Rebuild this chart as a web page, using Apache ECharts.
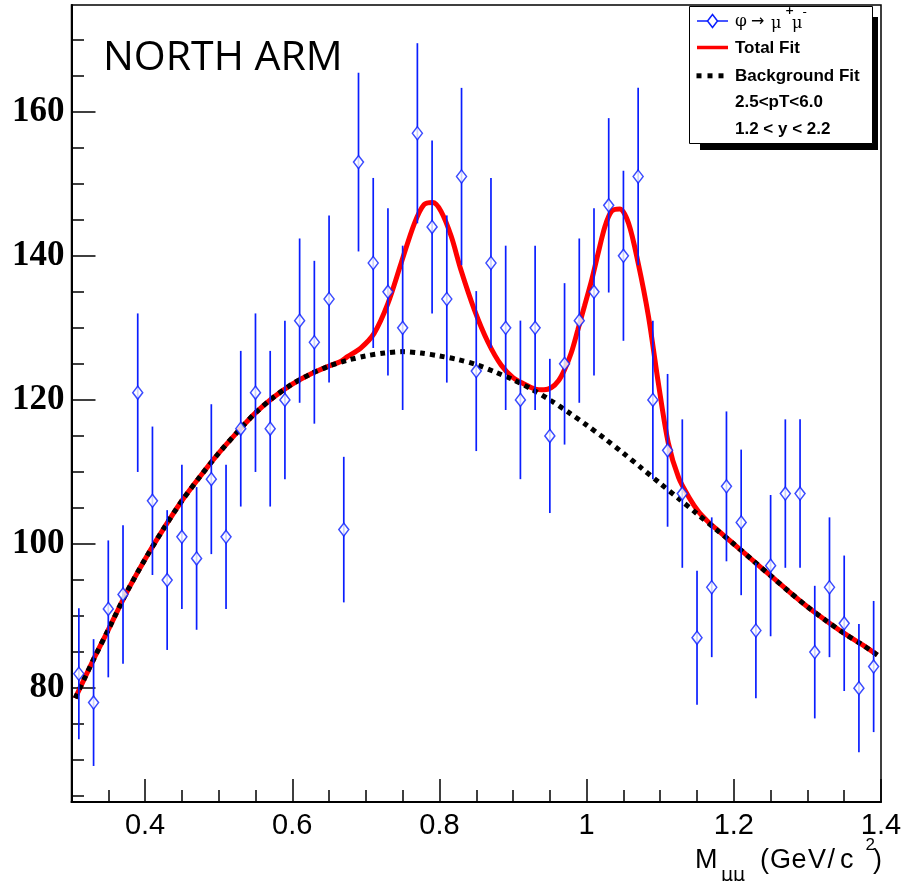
<!DOCTYPE html>
<html>
<head>
<meta charset="utf-8">
<script src="https://cdn.jsdelivr.net/npm/echarts@6/dist/echarts.min.js"></script>
<style>
html,body{margin:0;padding:0;background:#fff;}
#chart{width:906px;height:881px;}
</style>
</head>
<body>
<div id="chart"></div>
<script>
// ---- data ----
const massBins = [0.31,0.33,0.35,0.37,0.39,0.41,0.43,0.45,0.47,0.49,
  0.51,0.53,0.55,0.57,0.59,0.61,0.63,0.65,0.67,0.69,
  0.71,0.73,0.75,0.77,0.79,0.81,0.83,0.85,0.87,0.89,
  0.91,0.93,0.95,0.97,0.99,1.01,1.03,1.05,1.07,1.09,
  1.11,1.13,1.15,1.17,1.19,1.21,1.23,1.25,1.27,1.29,
  1.31,1.33,1.35,1.37,1.39];
const counts = [82,78,91,93,121, 106,95,101,98,109,
  101,116,121,116,120, 131,128,134,102,153,
  139,135,130,157,144, 134,151,124,139,130,
  120,130,115,125,131, 135,147,140,151,120,
  113,107,87,94,108, 103,88,97,107,107,
  85,94,89,80,83];
const countErrors = [9.1,8.8,9.5,9.6,11.0, 10.3,9.7,10.0,9.9,10.4,
  10.0,10.8,11.0,10.8,11.0, 11.4,11.3,11.6,10.1,12.4,
  11.8,11.6,11.4,12.5,12.0, 11.6,12.3,11.1,11.8,11.4,
  11.0,11.4,10.7,11.2,11.4, 11.6,12.1,11.8,12.3,11.0,
  10.6,10.3,9.3,9.7,10.4, 10.1,9.4,9.8,10.3,10.3,
  9.2,9.7,9.4,8.9,9.1];

const bgFitX = [0.305,0.33,0.35,0.375,0.40,0.425,0.45,0.475,0.50,0.525,0.55,0.575,0.60,0.625,0.65,0.675,0.70,0.725,0.75,0.775,0.80,0.825,0.85,0.875,0.90,0.925,0.95,0.975,1.00,1.025,1.05,1.075,1.10,1.125,1.15,1.175,1.20,1.225,1.25,1.275,1.30,1.325,1.35,1.375,1.395];
const bgFitY = [78.6,84.0,88.1,93.3,97.9,102.1,106.0,109.4,112.6,115.5,118.2,120.4,122.2,123.6,124.7,125.5,126.1,126.5,126.7,126.5,126.1,125.6,124.9,123.9,122.8,121.5,120.0,118.3,116.5,114.6,112.6,110.5,108.4,106.3,104.2,102.1,100.0,97.8,95.6,93.4,91.3,89.4,87.6,86.0,84.6];

const totFitX = [0.305,0.33,0.35,0.375,0.40,0.425,0.45,0.475,0.50,0.525,0.55,0.575,0.60,0.625,0.65,0.665,0.675,0.693,0.711,0.73,0.748,0.766,0.779,0.791,0.802,0.816,0.829,0.8475,0.866,0.884,0.90,0.915,0.93,0.942,0.952,0.962,0.970,0.979,0.988,0.997,1.007,1.016,1.025,1.034,1.045,1.057,1.070,1.084,1.0975,1.111,1.125,1.139,1.152,1.165,1.175,1.20,1.225,1.25,1.275,1.30,1.325,1.35,1.375,1.395];
const totFitY = [78.6,84.0,88.1,93.3,97.9,102.1,106.0,109.4,112.6,115.5,118.2,120.4,122.2,123.6,124.7,125.3,126.0,127.2,129.2,133.4,139.0,144.5,147.1,147.4,146.2,142.7,138.1,132.5,128.0,124.8,123.1,122.2,121.5,121.4,121.7,122.7,124.2,126.5,129.7,133.0,136.7,140.5,144.1,146.2,146.5,144.5,139.0,131.6,122.3,114.0,109.2,106.5,104.5,103.1,102.2,100.0,97.8,95.6,93.4,91.3,89.4,87.6,86.0,84.6];

const xMajorTicks = [0.4,0.6,0.8,1.0,1.2,1.4];
const xMinorTicks = [0.35,0.4,0.45,0.5,0.55,0.6,0.65,0.7,0.75,0.8,0.85,0.9,0.95,1.0,1.05,1.1,1.15,1.2,1.25,1.3,1.35,1.4];
const yMajorTicks = [80,100,120,140,160];
const yMinorTicks = [65,70,75,80,85,90,95,100,105,110,115,120,125,130,135,140,145,150,155,160,165,170];

const legendLabels = ['Total Fit','Background Fit','2.5<pT<6.0','1.2 < y < 2.2'];

// ---- chart ----
const BLUE = '#0a1eff';
const chart = echarts.init(document.getElementById('chart'));

const pts = massBins.map((x,i)=>[x, counts[i]]);
const errs = massBins.map((x,i)=>[x, counts[i], countErrors[i]]);
const bg = bgFitX.map((x,i)=>[x, bgFitY[i]]);
const tot = totFitX.map((x,i)=>[x, totFitY[i]]);

const XMIN=0.3, XMAX=1.4, YMIN=64.2, YMAX=174.8;

function txt(x, y, s, font, extra){
  return Object.assign({type:'text', z:12, x:x, y:y,
    style:{text:s, font:font, fill:'#000', textAlign:'left', textVerticalAlign:'middle', verticalAlign:'middle'}}, extra||{});
}
const titleFont = '27px "Liberation Sans"';

const option = {
  animation:false,
  backgroundColor:'#fff',
  grid:{left:71.5, right:25, top:5, bottom:79, show:true, borderColor:'#000', borderWidth:1.5, backgroundColor:'transparent'},
  xAxis:[{
    type:'value', min:XMIN, max:XMAX, position:'bottom',
    axisLine:{show:true, onZero:false, lineStyle:{color:'#000', width:2}},
    axisTick:{show:true, inside:true, length:23, customValues:xMajorTicks, lineStyle:{color:'#000', width:1.5}},
    axisLabel:{show:true, customValues:xMajorTicks, margin:9, color:'#000', fontFamily:'Liberation Sans', fontSize:29,
      formatter:v=>String(Math.round(v*10)/10)},
    splitLine:{show:false}
  },{
    type:'value', min:XMIN, max:XMAX, position:'bottom', offset:0,
    axisLine:{show:false},
    axisTick:{show:true, inside:true, length:12, customValues:xMinorTicks, lineStyle:{color:'#000', width:1.5}},
    axisLabel:{show:false}, splitLine:{show:false}
  }],
  yAxis:[{
    type:'value', min:YMIN, max:YMAX, position:'left',
    axisLine:{show:true, onZero:false, lineStyle:{color:'#000', width:2}},
    axisTick:{show:true, inside:true, length:24, customValues:yMajorTicks, lineStyle:{color:'#000', width:1.5}},
    axisLabel:{show:true, customValues:yMajorTicks, margin:7, padding:[4,0,0,0], color:'#000', fontFamily:'Liberation Serif', fontWeight:'bold', fontSize:35},
    splitLine:{show:false}
  },{
    type:'value', min:YMIN, max:YMAX, position:'left', offset:0,
    axisLine:{show:false},
    axisTick:{show:true, inside:true, length:12.5, customValues:yMinorTicks, lineStyle:{color:'#000', width:1.5}},
    axisLabel:{show:false}, splitLine:{show:false}
  }],
  series:[
    {
      name:'Total Fit', type:'line', data:tot, showSymbol:false, smooth:0.3, z:3,
      lineStyle:{color:'#ff0000', width:5}
    },
    {
      name:'Background Fit', type:'line', data:bg, showSymbol:false, smooth:0.3, z:4,
      lineStyle:{color:'#000', width:5, type:[5,5], cap:'butt'}
    },
    {
      name:'errors', type:'custom', z:5,
      data:errs,
      encode:{x:0, y:1},
      renderItem:function(params, api){
        const x = api.value(0), y = api.value(1), e = api.value(2);
        const p1 = api.coord([x, y-e]);
        const p2 = api.coord([x, y+e]);
        return {type:'line', shape:{x1:p1[0], y1:p1[1], x2:p2[0], y2:p2[1]},
          style:{stroke:BLUE, lineWidth:1.7}};
      }
    },
    {
      name:'φ → μ+μ-', type:'scatter', data:pts, z:6,
      symbol:'diamond', symbolSize:[10,13],
      itemStyle:{color:'#fff', borderColor:BLUE, borderWidth:1.5}
    }
  ],
  graphic:{elements:[
    txt(103, 58.5, 'NORTH ARM', '41px "Open Sans"'),
    // legend
    {type:'rect', z:10, shape:{x:700, y:17, width:178, height:133}, style:{fill:'#000'}},
    {type:'rect', z:11, shape:{x:689.5, y:6.5, width:183, height:137}, style:{fill:'#fff', stroke:'#000', lineWidth:1}},
    {type:'line', z:12, shape:{x1:697, y1:21, x2:728, y2:21}, style:{stroke:BLUE, lineWidth:1.5}},
    {type:'polygon', z:13, shape:{points:[[712.5,14.5],[717.5,21],[712.5,27.5],[707.5,21]]}, style:{fill:'#fff', stroke:BLUE, lineWidth:1.5}},
    txt(735, 22, 'φ', '17px "DejaVu Serif"'),
    txt(751, 22, '→', '16px "DejaVu Sans"'),
    txt(771, 24, 'μ', '16px "DejaVu Serif"'),
    txt(785, 11, '+', 'bold 11px "DejaVu Sans"'),
    txt(792, 24, 'μ', '16px "DejaVu Serif"'),
    txt(802.5, 12.5, '-', '12px "DejaVu Sans"'),
    {type:'line', z:12, shape:{x1:697, y1:47.5, x2:728, y2:47.5}, style:{stroke:'#ff0000', lineWidth:3.5}},
    {type:'rect', z:12, shape:{x:696.5, y:73.3, width:5, height:5}, style:{fill:'#000'}},
    {type:'rect', z:12, shape:{x:707.5, y:73.3, width:5, height:5}, style:{fill:'#000'}},
    {type:'rect', z:12, shape:{x:718.5, y:73.3, width:5, height:5}, style:{fill:'#000'}},
    txt(735, 48.5, legendLabels[0], 'bold 17px "Liberation Sans"'),
    txt(735, 76.5, legendLabels[1], 'bold 17px "Liberation Sans"'),
    txt(735, 102.5, legendLabels[2], 'bold 17px "Liberation Sans"'),
    txt(735, 129, legendLabels[3], 'bold 17px "Liberation Sans"'),
    // x axis title  M_μμ (GeV/c^2)
    txt(695, 860.5, 'M', titleFont),
    txt(721, 876, 'μμ', '19px "DejaVu Sans"'),
    txt(760, 860.5, '(', titleFont),
    txt(770, 860.5, 'G', titleFont),
    txt(791.5, 860.5, 'e', titleFont),
    txt(808, 860.5, 'V', titleFont),
    txt(827.5, 860.5, '/', titleFont),
    txt(840, 860.5, 'c', titleFont),
    txt(865.5, 845, '2', '17px "Liberation Sans"'),
    txt(873, 860.5, ')', titleFont)
  ]}
};
chart.setOption(option);
</script>
</body>
</html>
